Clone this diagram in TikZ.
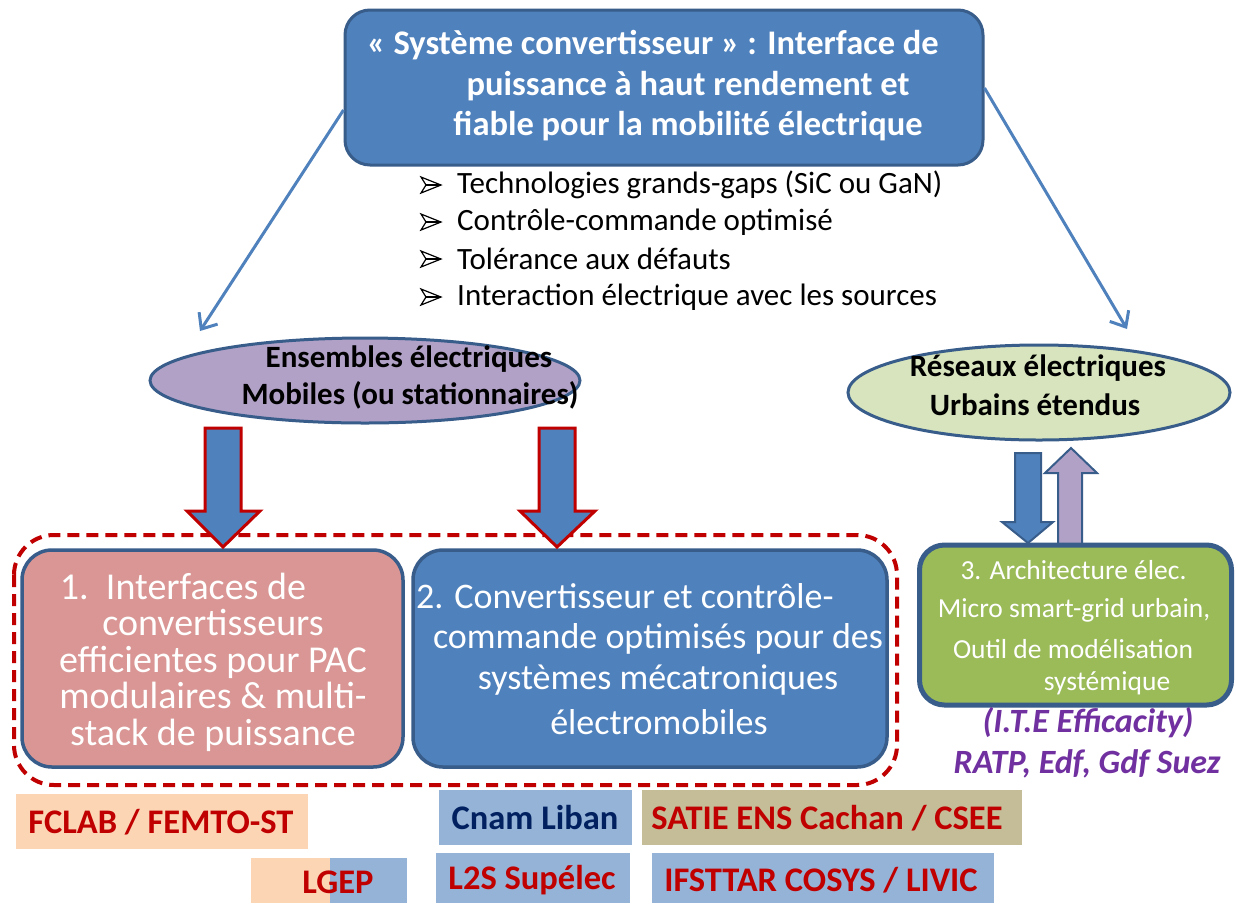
\documentclass[tikz,border=0pt]{standalone}
\usepackage{fontspec}
\setmainfont{Carlito}
\usetikzlibrary{arrows.meta,shapes.geometric}
\definecolor{bfill}{HTML}{4F81BD}
\definecolor{bline}{HTML}{385D8A}
\definecolor{pinkfill}{HTML}{D99694}
\definecolor{lilac}{HTML}{B2A1C7}
\definecolor{palegreen}{HTML}{D7E4BD}
\definecolor{greenfill}{HTML}{9BBB59}
\definecolor{darkred}{HTML}{C00000}
\definecolor{purp}{HTML}{7030A0}
\definecolor{peach}{HTML}{FCD5B5}
\definecolor{lblue}{HTML}{95B3D7}
\definecolor{khaki}{HTML}{C4BD97}
\definecolor{navy}{HTML}{002060}
\tikzset{
  boxbase/.style={draw=bline, line width=3.5pt, rounded corners=30pt, inner sep=0pt},
  thinarrow/.style={draw=bfill, line width=3pt, -{Straight Barb[length=13pt,width=22pt,line width=3pt]}},
  blockred/.style={fill=bfill, draw=darkred, line width=3pt, line join=miter},
  blockblue/.style={draw=bline, line width=2pt, line join=miter},
  bulletmark/.style={draw=black, line width=1.2pt, line join=miter},
  titletxt/.style={text=white, font=\fontsize{34.5}{40}\selectfont\bfseries, inner sep=0pt},
  bullettxt/.style={font=\fontsize{31}{36}\selectfont, inner sep=0pt, anchor=west},
  elltxt/.style={font=\fontsize{31}{36}\selectfont\bfseries, inner sep=0pt},
  boxonetxt/.style={text=white, font=\fontsize{38}{36.5}\selectfont, inner sep=0pt, align=center},
  boxtwotxt/.style={text=white, font=\fontsize{36}{42}\selectfont, inner sep=0pt},
  smalltxt/.style={text=white, font=\fontsize{27.5}{32}\selectfont, inner sep=0pt},
  purptxt/.style={text=purp, font=\fontsize{34}{40}\selectfont\bfseries\itshape, inner sep=0pt},
  labtxt/.style={text=darkred, font=\fontsize{34.5}{40}\selectfont\bfseries, inner sep=0pt},
}
\begin{document}
\begin{tikzpicture}[x=1pt,y=-1pt]
\useasboundingbox (0,0) rectangle (1236,903);
\fill[white] (0,0) rectangle (1236,903);

% top box
\node[boxbase, fill=bfill, line width=3pt, rounded corners=25pt, minimum width=638pt, minimum height=155pt] (top) at (664,87.5) {};
\node[titletxt] (t1) at (653,45) {« Système convertisseur » : Interface de};
\node[titletxt] (t2) at (688,86) {puissance à haut rendement et};
\node[titletxt] (t3) at (688,126) {fiable pour la mobilité électrique};

% bullets
\node[bullettxt] (b1) at (457,185) {Technologies grands-gaps (SiC ou GaN)};
\node[bullettxt] (b2) at (457,222) {Contrôle-commande optimisé};
\node[bullettxt] (b3) at (457,259) {Tolérance aux défauts};
\node[bullettxt] (b4) at (457,297) {Interaction électrique avec les sources};
\foreach \yy in {185,222,259,297}{
  \draw[bulletmark] (421,\yy-8) -- (441,\yy) -- (421,\yy+8) -- (426,\yy) -- cycle;
  \draw[bulletmark] (426,\yy) -- (441,\yy);
}

% ellipses
\node[ellipse, draw=bline, line width=3pt, fill=lilac, minimum width=430pt, minimum height=85pt, inner sep=0pt] (ens) at (365,380.5) {};
\node[elltxt] (e1) at (409,359) {Ensembles électriques};
\node[elltxt] (e2) at (410,395) {Mobiles (ou stationnaires)};
\node[ellipse, draw=bline, line width=3pt, fill=palegreen, minimum width=382pt, minimum height=95pt, inner sep=0pt] (res) at (1039,392.5) {};
\node[elltxt] (r1) at (1038,368) {Réseaux électriques};
\node[elltxt] (r2) at (1035,405) {Urbains étendus};

% thin arrows
\coordinate (ensTip) at (200,331);
\coordinate (resTip) at (1127,329);
\draw[thinarrow] (top.west |- {(0,110)}) -- (ensTip);
\draw[thinarrow] (top.east |- {(0,88)}) -- (resTip);

% dashed group
\draw[darkred, line width=4pt, dash pattern=on 12pt off 7pt, rounded corners=40pt] (14,535) rectangle (897,785);

% box 1 and 2
\node[boxbase, fill=pinkfill, minimum width=381pt, minimum height=217pt] (box1) at (212.5,658.5) {};
\node[boxbase, fill=bfill, minimum width=474pt, minimum height=217pt] (box2) at (650,658.5) {};
\node[boxonetxt] (x1) at (213,662) {1.\ \ Interfaces de\hspace*{60pt}\\convertisseurs\\efficientes pour PAC\\modulaires \& multi-\\stack de puissance};
\node[boxtwotxt, anchor=west] (x21) at (416,596) {2. Convertisseur et contrôle-};
\node[boxtwotxt] (x22) at (658,639) {commande optimisés pour des};
\node[boxtwotxt] (x23) at (658,680) {systèmes mécatroniques};
\node[boxtwotxt] (x24) at (659,722) {électromobiles};

% red block arrows
\draw[blockred] (205,428) -- (241,428) -- (241,511) -- (260,511) -- (223,547) -- (187,511) -- (205,511) -- cycle;
\draw[blockred] (539,428) -- (575,428) -- (575,511) -- (595,511) -- (557,547) -- (520,511) -- (539,511) -- cycle;

% right small arrows
\draw[blockblue, fill=lilac] (1058,545) -- (1058,473) -- (1045,473) -- (1071,448) -- (1097,473) -- (1082,473) -- (1082,545) -- cycle;
% box 3
\node[boxbase, fill=greenfill, line width=5pt, rounded corners=25pt, minimum width=312pt, minimum height=160pt] (box3) at (1075.5,625) {};
\draw[blockblue, fill=bfill] (1015,453) -- (1041,453) -- (1041,522) -- (1053,522) -- (1028,543) -- (1002,522) -- (1015,522) -- cycle;
\node[smalltxt] (x31) at (1073.5,570) {3. Architecture élec.};
\node[smalltxt] (x32) at (1074,610) {Micro smart-grid urbain,};
\node[smalltxt] (x33) at (1073,649) {Outil de modélisation};
\node[smalltxt] (x34) at (1107,683) {systémique};

\node[purptxt] (p1) at (1088,723) {(I.T.E Efficacity)};
\node[purptxt] (p2) at (1087,764) {RATP, Edf, Gdf Suez};

% bottom labels
\fill[peach] (16,794) rectangle (308,849);
\fill[lblue] (439,790) rectangle (632,845);
\fill[khaki] (642,790) rectangle (1022,845);
\fill[peach] (251,858) rectangle (330,903);
\fill[lblue] (330,858) rectangle (407,903);
\fill[lblue] (436,853) rectangle (630,903);
\fill[lblue] (652,853) rectangle (994,903);
\node[labtxt] (l1) at (161,822) {FCLAB / FEMTO-ST};
\node[labtxt, text=navy] (l2) at (535,818) {Cnam Liban};
\node[labtxt] (l3) at (827,818) {SATIE ENS Cachan / CSEE};
\node[labtxt] (l4) at (338,882) {LGEP};
\node[labtxt] (l5) at (532,880) {L2S Supélec};
\node[labtxt] (l6) at (821,880) {IFSTTAR COSYS / LIVIC};
\end{tikzpicture}
\end{document}
